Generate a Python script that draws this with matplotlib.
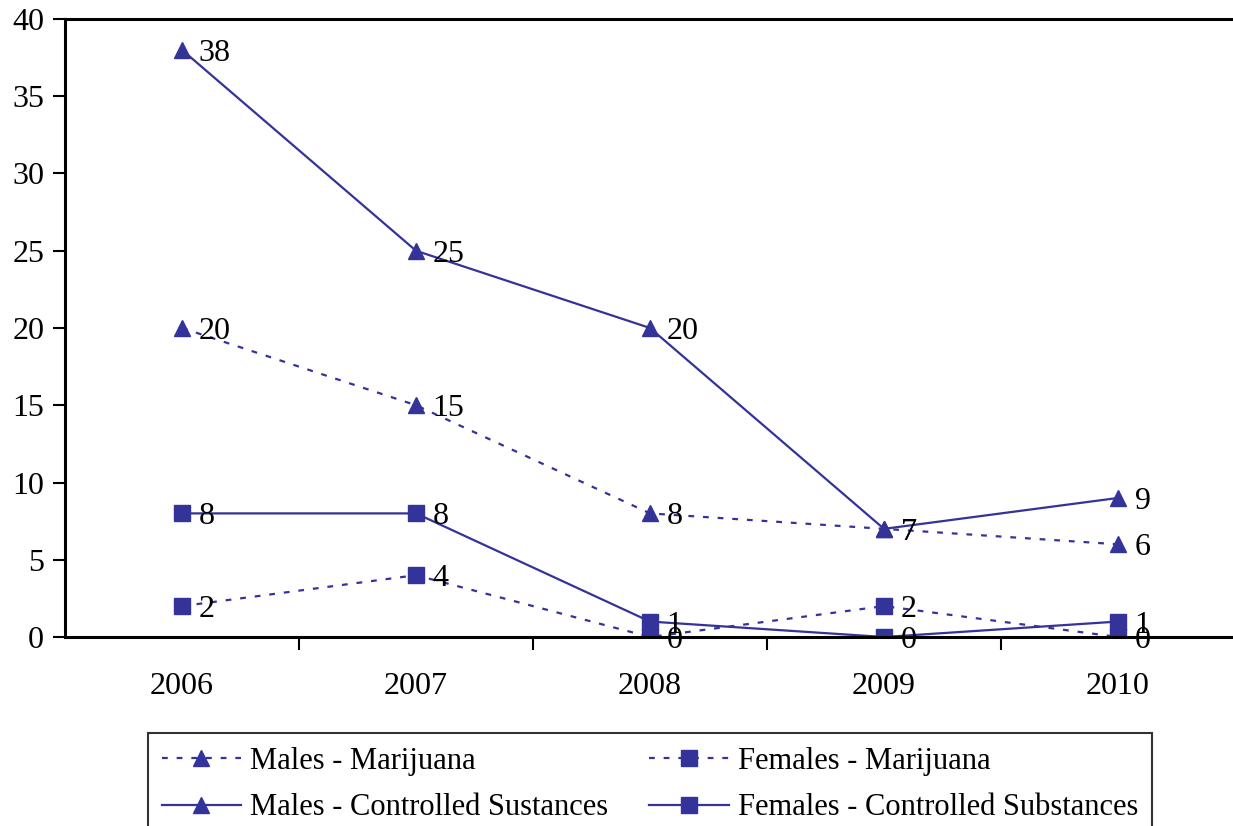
import matplotlib
matplotlib.use('Agg')
import matplotlib.pyplot as plt
from matplotlib.ticker import FixedLocator

years = ['2006', '2007', '2008', '2009', '2010']
males_marijuana = [20, 15, 8, 7, 6]
females_marijuana = [2, 4, 0, 2, 0]
males_controlled = [38, 25, 20, 7, 9]
females_controlled = [8, 8, 1, 0, 1]

plt.rcParams['font.family'] = ['Liberation Serif', 'DejaVu Serif']
col = '#333399'
dots = (0, (2.6, 4.0))

fig = plt.figure(figsize=(12.33, 8.26), dpi=100)
ax = fig.add_axes([65 / 1233, 1 - 637 / 826, 1170 / 1233, 618 / 826])

x = list(range(len(years)))
h_mm, = ax.plot(x, males_marijuana, linestyle=dots, color=col, lw=1.6, marker='^', ms=12,
                label='Males - Marijuana')
h_fm, = ax.plot(x, females_marijuana, linestyle=dots, color=col, lw=1.6, marker='s', ms=11,
                label='Females - Marijuana')
h_mc, = ax.plot(x, males_controlled, '-', color=col, lw=1.6, marker='^', ms=12,
                label='Males - Controlled Sustances')
h_fc, = ax.plot(x, females_controlled, '-', color=col, lw=1.6, marker='s', ms=11,
                label='Females - Controlled Substances')

for series in [males_marijuana, females_marijuana, males_controlled, females_controlled]:
    for xi, v in zip(x, series):
        ax.annotate(str(v), (xi, v), xytext=(12, 0), textcoords='offset points',
                    ha='left', va='center_baseline', fontsize=23, clip_on=False)

ax.set_xlim(-0.5, 4.5)
ax.set_ylim(0, 40)
ax.set_yticks(range(0, 41, 5))
ax.set_xticks(x)
ax.set_xticklabels(years)
ax.xaxis.set_minor_locator(FixedLocator([0.5, 1.5, 2.5, 3.5]))
ax.tick_params(axis='x', which='major', length=0, pad=25, labelsize=23)
ax.tick_params(axis='x', which='minor', length=9, width=1.5, direction='out')
ax.tick_params(axis='y', length=9, width=1.5, pad=6, labelsize=23, direction='out')
for s in ['left', 'bottom', 'top']:
    ax.spines[s].set_linewidth(2.2)
ax.spines['right'].set_visible(False)

leg = fig.legend([h_mm, h_mc, h_fm, h_fc],
                 [h.get_label() for h in [h_mm, h_mc, h_fm, h_fc]],
                 loc='upper left',
                 bbox_to_anchor=(148 / 1233, 1 - 733 / 826 - 0.01, 1004 / 1233, 0.01),
                 mode='expand', ncol=2, fontsize=22, frameon=True, fancybox=False,
                 handlelength=2.6, handletextpad=0.3, labelspacing=0.58, borderpad=0.45,
                 borderaxespad=0)
leg.get_frame().set_edgecolor('black')
leg.get_frame().set_linewidth(1.5)

fig.savefig('out.png', dpi=100)
